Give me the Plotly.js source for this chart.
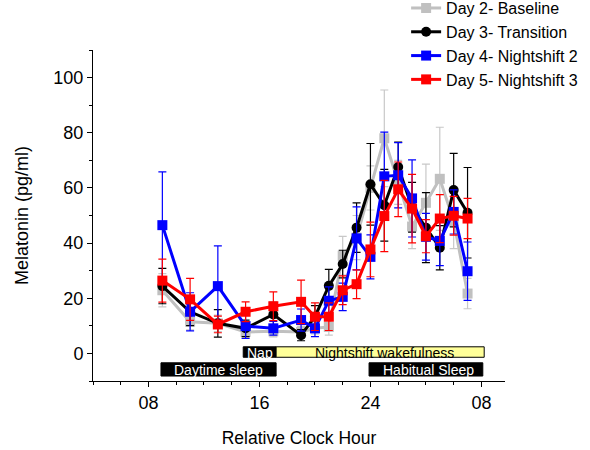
<!DOCTYPE html>
<html>
<head>
<meta charset="utf-8">
<script src="https://cdn.plot.ly/plotly-3.0.1.min.js"></script>
<style>html,body{margin:0;padding:0;background:#fff;}#chart{width:590px;height:450px;}</style>
</head>
<body>
<div id="chart"></div>
<script>
// Relative clock hour (08 = 8, 16 = 16, 24 = 24, next-day 08 = 32)
const hours = [9, 11, 13, 15, 17, 19, 20, 21, 22, 23, 24, 25, 26, 27, 28, 29, 30, 31];

const day2Baseline = [22.9, 11.5, 10.9, 7.8, 8.0, 7.8, 9.1, 9.6, 35.4, 42, 60, 78, 62, 46, 54.6, 63.3, 48, 21.7];
const day2Err      = [6, 3, 3, 2, 2, 2, 2, 3, 7, 8, 8, 17.5, 8, 8, 14, 18.7, 10, 5.5];

const day3Transition = [24.4, 15.1, 10.9, 9.1, 14.1, 6.6, 13.3, 24.5, 32.4, 45.6, 61.3, 53.7, 67.6, 53, 45.6, 38.3, 59.2, 51];
const day3Err        = [6.4, 5, 5, 3, 4.4, 2, 4, 6, 5, 9, 14.8, 13, 9, 9, 12.7, 8, 13.3, 16.4];

const day4Nightshift2 = [46.5, 15.1, 24.4, 9.9, 9.1, 12.1, 9.1, 19.1, 20.5, 41.7, 35, 64.2, 64.6, 56.2, 42.3, 40.8, 51.3, 29.8];
const day4Err         = [19.3, 6.9, 14.6, 4.5, 2.5, 4, 3, 5, 5, 11.4, 8, 16, 11.8, 14, 8.5, 9, 8, 10.6];

const day5Nightshift3 = [26.4, 19.6, 10.5, 15.1, 17.1, 18.7, 13.3, 13.3, 22.9, 25.1, 37.7, 49.8, 59.5, 52.5, 42.5, 48.9, 49.9, 48.9];
const day5Err         = [7.8, 7.6, 3, 3.6, 5.2, 7.9, 5, 5, 5.2, 5.2, 9.9, 12.9, 9.9, 12.4, 6, 8.7, 7, 7.3];

const seriesNames = ["Day 2- Baseline", "Day 3- Transition", "Day 4- Nightshift 2", "Day 5- Nightshift 3"];

const xTickVals = [8, 16, 24, 32];
const xTickText = ["08", "16", "24", "08"];

// Schedule bars
const barLabels = ["Nap", "Nightshift wakefulness", "Daytime sleep", "Habitual Sleep"];
const barStart  = [14.83, 17.2, 8.9, 23.9];
const barEnd    = [17.2, 32.2, 17.2, 32.1];

const font = "Liberation Sans, Arial, sans-serif";

function mk(name, y, err, color, symbol, errColor) {
  return {
    x: hours, y: y, name: name, type: "scatter", mode: "lines+markers",
    line: {color: color, width: 3},
    marker: {color: color, symbol: symbol, size: 10},
    error_y: {type: "data", array: err, visible: true, color: errColor, thickness: 1.2, width: 4}
  };
}

const traces = [
  mk(seriesNames[0], day2Baseline, day2Err, "#c0c0c0", "square", "#c8c8c8"),
  mk(seriesNames[1], day3Transition, day3Err, "#000000", "circle", "#000000"),
  mk(seriesNames[2], day4Nightshift2, day4Err, "#0000ff", "square", "#0000ff"),
  mk(seriesNames[3], day5Nightshift3, day5Err, "#ff0000", "square", "#ff0000")
];

const rowY = [[-1.4, 2.4], [-1.4, 2.4], [-8.2, -3.4], [-8.2, -3.4]];
const fills = ["#000000", "#ffff99", "#000000", "#000000"];
const textCols = ["#ffffff", "#000000", "#ffffff", "#ffffff"];
const textShift = [0, 0.34, 0, 0.15];
const shapes = [];
const annotations = [];
for (let i = 0; i < barLabels.length; i++) {
  shapes.push({type: "rect", xref: "x", yref: "y", x0: barStart[i], x1: barEnd[i], y0: rowY[i][0], y1: rowY[i][1],
    fillcolor: fills[i], line: {color: "#000000", width: 1}, layer: "above"});
  annotations.push({xref: "x", yref: "y", x: (barStart[i] + barEnd[i]) / 2 + textShift[i], y: (rowY[i][0] + rowY[i][1]) / 2,
    text: barLabels[i], showarrow: false, font: {family: font, size: 14, color: textCols[i]}, yshift: -1});
}

const layout = {
  width: 590, height: 450,
  margin: {l: 93, r: 85, t: 50, b: 69, pad: 0, autoexpand: false},
  paper_bgcolor: "#ffffff", plot_bgcolor: "#ffffff",
  font: {family: font, size: 18, color: "#000000"},
  showlegend: true,
  legend: {x: 0.76, y: 1.178, xanchor: "left", yanchor: "top", bgcolor: "rgba(0,0,0,0)",
    font: {family: font, size: 16}, tracegroupgap: 0, itemwidth: 30},
  xaxis: {
    range: [4, 33.7], tickmode: "array", tickvals: xTickVals, ticktext: xTickText,
    showline: true, linecolor: "#000000", linewidth: 1, mirror: false,
    ticks: "outside", ticklen: 5, tickcolor: "#000000", tickwidth: 1,
    showgrid: false, zeroline: false, automargin: false,
    minor: {tickmode: "linear", tick0: 0, dtick: 2, ticks: "outside", ticklen: 3, tickcolor: "#000000", showgrid: false},
    tickfont: {family: font, size: 18},
    title: {text: "Relative Clock Hour", font: {family: font, size: 17.5}, standoff: 20}
  },
  yaxis: {
    range: [-10, 110], tickmode: "linear", tick0: 0, dtick: 20,
    showline: true, linecolor: "#000000", linewidth: 1, mirror: false,
    ticks: "outside", ticklen: 5, tickcolor: "#000000", tickwidth: 1,
    showgrid: false, zeroline: false, automargin: false,
    minor: {tickmode: "linear", tick0: 0, dtick: 10, ticks: "outside", ticklen: 3, tickcolor: "#000000", showgrid: false},
    tickfont: {family: font, size: 18},
    title: {text: "Melatonin (pg/ml)", font: {family: font, size: 18}, standoff: 20}
  },
  shapes: shapes,
  annotations: annotations
};

Plotly.newPlot("chart", traces, layout, {displayModeBar: false, staticPlot: true});
</script>
</body>
</html>
